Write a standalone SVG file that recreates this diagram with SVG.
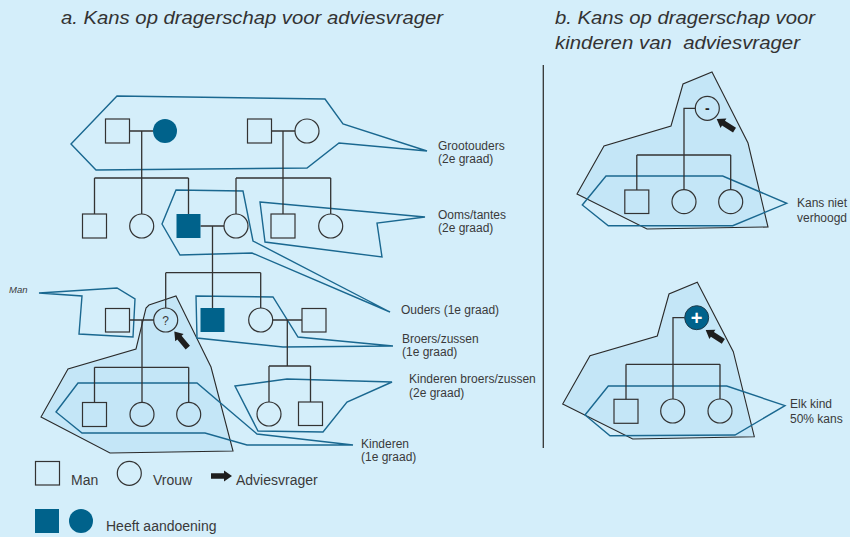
<svg xmlns="http://www.w3.org/2000/svg" width="850" height="537" viewBox="0 0 850 537">
<defs>
<style>
.grp{fill:none;stroke:#1a6890;stroke-width:1.4;stroke-linejoin:miter}
.shade{fill:#c4e6f7;stroke:#2a2a2a;stroke-width:1.1}
.ln{fill:none;stroke:#333;stroke-width:1.3}
.m{fill:none;stroke:#333;stroke-width:1.2}
.aff{fill:#00628b;stroke:none}
.lbl{font-family:"Liberation Sans",Arial,sans-serif;font-size:12px;fill:#3a3a3a}
.leg{font-family:"Liberation Sans",Arial,sans-serif;font-size:14px;fill:#3a3a3a}
.ttl{font-family:"Liberation Sans",Arial,sans-serif;font-size:18px;font-style:italic;fill:#333}
</style>
<path id="arw" d="M0,0 L-8,-5.5 L-8,-2.8 L-21,-2.8 L-21,2.8 L-8,2.8 L-8,5.5 Z" fill="#1e1e1e"/>
</defs>
<rect width="850" height="537" fill="#d4eefa"/>

<g id="titles">
<text class="ttl" x="61" y="24" textLength="382" lengthAdjust="spacingAndGlyphs">a. Kans op dragerschap voor adviesvrager</text>
<text class="ttl" x="555" y="24" textLength="260" lengthAdjust="spacingAndGlyphs">b. Kans op dragerschap voor</text>
<text class="ttl" x="555" y="49" textLength="245" lengthAdjust="spacingAndGlyphs" xml:space="preserve">kinderen van  adviesvrager</text>
</g>

<line x1="543.3" y1="65" x2="543.3" y2="448" stroke="#333" stroke-width="1.3"/>

<g id="regions">
<polygon class="shade" points="176,296 211,367 233,451 110,453 41,417 68,369 136,349 146,308 149,305"/>
<polygon class="shade" points="712,72 748,143 768,227 647,229 577,194 604,146 671,126 683,84"/>
<polygon class="shade" points="697.3,282.3 733.3,351.7 754.3,436.7 632.7,439 562.7,404 590,355.7 657.3,336 669,294"/>
<polygon class="grp" points="117,96 325,99 343,124 427,151 339,143 307,168 96,170 71,144"/>
<polygon class="grp" points="260,202 425,217 377,223 382,257 265,242"/>
<polygon class="grp" points="176,190 243,191 253,241 390,312 252,253 180,255 162,224"/>
<polygon class="grp" points="39,293 117,288 135,299 133,337 79,334 82,296"/>
<polygon class="grp" points="196,296 273,297 298,337 393,346 283,347 197,338"/>
<polygon class="grp" points="235,386 287,379 392,382 347,402 323,432 258,431"/>
<polygon class="grp" points="78,383 197,383 257,434 353,445 247,445 205,433 82,433 56,412"/>
<polygon class="grp" points="606,176 722.7,176 786.7,203.3 732.7,225.7 608.3,225.7 582.3,205"/>
<polygon class="grp" points="608.3,386 726.7,386 785,405.7 735,435 610,435.7 585,415"/>
</g>

<g id="connectors">
<path class="ln" d="M129.5,131 H153 M141.7,131 V214 M94.5,178 H188.5 M94.5,178 V214 M188.5,178 V214"/>
<path class="ln" d="M271.5,131 H295 M283,131 V214 M236,178 H330.7 M236,178 V214 M330.7,178 V214"/>
<path class="ln" d="M200.5,226 H224 M212.5,226 V308 M165.7,272.7 H260.7 M165.7,272.7 V308 M260.7,272.7 V308"/>
<path class="ln" d="M129.5,320 H153.7 M142,320 V402.3 M94.5,367.3 H188.7 M94.5,367.3 V402.5 M188.7,367.3 V402.3"/>
<path class="ln" d="M272.7,320 H302 M287.3,320 V366 M269,366 H310.5 M269,366 V402 M310.5,366 V402"/>
<path class="ln" d="M695.3,108.3 H684 V189.7 M636.8,155 H730.7 M636.8,155 V190 M730.7,155 V189.7"/>
<path class="ln" d="M684.7,317.7 H673 V399 M626,364.3 H720 M626,364.3 V399.3 M720,364.3 V399"/>
</g>

<g id="gp1-man"><rect class="m" x="105.5" y="119" width="24" height="24"/></g>
<g id="gp1-woman"><circle class="aff" cx="165" cy="131" r="12"/></g>
<g id="gp2-man"><rect class="m" x="247.5" y="119" width="24" height="24"/></g>
<g id="gp2-woman"><circle class="m" cx="307" cy="131" r="12"/></g>
<g id="uncle1"><rect class="m" x="82.5" y="214" width="24" height="24"/></g>
<g id="aunt1"><circle class="m" cx="141.7" cy="226" r="12"/></g>
<g id="father"><rect class="aff" x="176.5" y="214" width="24" height="24"/></g>
<g id="mother"><circle class="m" cx="236" cy="226" r="12"/></g>
<g id="uncle2"><rect class="m" x="271" y="214" width="24" height="24"/></g>
<g id="aunt2"><circle class="m" cx="330.7" cy="226" r="12"/></g>
<g id="partner"><rect class="m" x="105.5" y="308.5" width="24" height="23.5"/></g>
<g id="adviesvrager"><circle class="m" cx="165.7" cy="320" r="12"/><text class="lbl" x="165.7" y="324.5" text-anchor="middle">?</text><use href="#arw" transform="translate(174.3,331.5) rotate(-130)"/></g>
<g id="brother"><rect class="aff" x="200.5" y="308" width="24" height="24"/></g>
<g id="sister"><circle class="m" cx="260.7" cy="320" r="12"/></g>
<g id="sister-partner"><rect class="m" x="302" y="308.5" width="24" height="23.5"/></g>
<g id="niece"><circle class="m" cx="269" cy="414" r="12"/></g>
<g id="nephew"><rect class="m" x="298.5" y="402" width="24" height="23.5"/></g>
<g id="child1"><rect class="m" x="82.5" y="402.5" width="24" height="24"/></g>
<g id="child2"><circle class="m" cx="142" cy="414.3" r="12"/></g>
<g id="child3"><circle class="m" cx="188.7" cy="414.3" r="12"/></g>

<g id="b1-parent"><circle class="m" cx="707.3" cy="108.3" r="12"/><text x="707.3" y="113" text-anchor="middle" font-family="Liberation Sans, Arial, sans-serif" font-size="14" font-weight="bold" fill="#222">-</text><use href="#arw" transform="translate(716.7,119) rotate(-148)"/></g>
<g id="b1-child1"><rect class="m" x="624.8" y="190" width="24" height="23.5"/></g>
<g id="b1-child2"><circle class="m" cx="684" cy="201.7" r="12"/></g>
<g id="b1-child3"><circle class="m" cx="730.7" cy="201.7" r="12"/></g>

<g id="b2-parent"><circle cx="696.7" cy="317.7" r="12" fill="#00628b" stroke="#1e3a4a" stroke-width="1"/><text x="696.7" y="324.6" text-anchor="middle" font-family="Liberation Sans, Arial, sans-serif" font-size="20" font-weight="bold" fill="#ffffff">+</text><use href="#arw" transform="translate(705.7,330) rotate(-147)"/></g>
<g id="b2-child1"><rect class="m" x="614" y="399.3" width="24" height="24"/></g>
<g id="b2-child2"><circle class="m" cx="672.7" cy="411" r="12"/></g>
<g id="b2-child3"><circle class="m" cx="720" cy="411" r="12"/></g>

<g id="labels">
<text class="lbl" x="438" y="150">Grootouders</text>
<text class="lbl" x="438" y="163">(2e graad)</text>
<text class="lbl" x="438" y="219">Ooms/tantes</text>
<text class="lbl" x="438" y="232">(2e graad)</text>
<text class="lbl" x="401" y="314">Ouders (1e graad)</text>
<text class="lbl" x="402" y="343">Broers/zussen</text>
<text class="lbl" x="402" y="356">(1e graad)</text>
<text class="lbl" x="409" y="383">Kinderen broers/zussen</text>
<text class="lbl" x="409" y="397">(2e graad)</text>
<text class="lbl" x="361" y="448">Kinderen</text>
<text class="lbl" x="361" y="461">(1e graad)</text>
<text class="lbl" x="797" y="207">Kans niet</text>
<text class="lbl" x="797" y="222">verhoogd</text>
<text class="lbl" x="790" y="408">Elk kind</text>
<text class="lbl" x="790" y="423">50% kans</text>
<text x="9" y="293" font-family="Liberation Sans, Arial, sans-serif" font-size="9.5" font-style="italic" fill="#3a3a3a">Man</text>
</g>

<g id="legend">
<rect class="m" x="35.5" y="461.5" width="24" height="23.5"/>
<text class="leg" x="71" y="485">Man</text>
<circle class="m" cx="129.3" cy="473.3" r="12"/>
<text class="leg" x="153" y="485">Vrouw</text>
<use href="#arw" transform="translate(232,476)"/>
<text class="leg" x="236" y="485">Adviesvrager</text>
<rect class="aff" x="35" y="509" width="24" height="24"/>
<circle class="aff" cx="81" cy="521" r="12"/>
<text class="leg" x="106" y="531">Heeft aandoening</text>
</g>
</svg>
